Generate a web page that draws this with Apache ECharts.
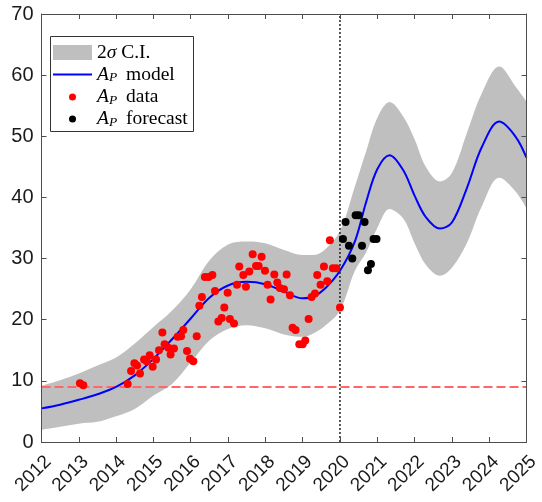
<!DOCTYPE html>
<html><head><meta charset="utf-8">
<script src="https://cdn.jsdelivr.net/npm/echarts@6/dist/echarts.min.js"></script>
<style>html,body{margin:0;padding:0;background:#fff}#c{width:542px;height:502px}</style>
</head><body><div id="c"></div>
<script>
const xMin = 2012, xMax = 2025, xStep = 1;
const yMin = 0, yMax = 70, yStep = 10;

const dataYears = [2013.03,2013.12,2014.31,2014.40,2014.49,2014.56,2014.64,2014.75,2014.82,2014.90,2014.98,2015.07,2015.15,2015.24,2015.30,2015.40,2015.46,2015.55,2015.65,2015.74,2015.80,2015.90,2015.98,2016.07,2016.16,2016.23,2016.30,2016.38,2016.48,2016.58,2016.65,2016.74,2016.83,2016.90,2016.99,2017.05,2017.16,2017.24,2017.30,2017.41,2017.48,2017.57,2017.66,2017.75,2017.82,2017.90,2017.99,2018.06,2018.14,2018.24,2018.32,2018.39,2018.50,2018.57,2018.66,2018.73,2018.81,2018.91,2019.00,2019.07,2019.16,2019.24,2019.33,2019.39,2019.48,2019.57,2019.66,2019.73,2019.81,2019.90,2020.00];
const dataValues = [9.6,9.3,9.5,11.6,12.9,12.5,11.2,13.5,13.2,14.2,12.3,13.5,15.0,17.9,16.0,15.4,14.3,15.3,17.2,17.3,18.3,14.9,13.6,13.2,17.3,22.3,23.7,27.0,27.0,27.3,24.7,19.7,20.3,22.0,24.4,20.1,19.4,25.7,28.7,27.3,25.4,27.9,30.7,28.8,28.8,30.3,28.0,25.7,23.3,27.4,26.1,25.2,25.0,27.4,24.0,18.7,18.3,16.0,16.0,16.6,20.1,23.7,24.3,27.3,25.7,28.7,26.3,33.0,28.4,28.4,22.0];

const forecastYears = [2020.08,2020.15,2020.24,2020.33,2020.42,2020.50,2020.59,2020.66,2020.75,2020.83,2020.90,2020.98];
const forecastValues = [33.2,36.0,32.1,30.0,37.1,37.1,32.1,36.0,28.1,29.1,33.2,33.2];

const modelYears = [2012.0,2012.5,2013.0,2013.5,2014.0,2014.5,2015.0,2015.5,2016.0,2016.5,2017.0,2017.5,2018.0,2018.5,2019.0,2019.3,2019.6,2020.0,2020.4,2020.7,2021.0,2021.33,2021.7,2022.0,2022.3,2022.68,2023.0,2023.4,2023.8,2024.27,2024.7,2025.0];
const modelValues = [5.5,6.1,6.9,7.8,9.0,10.9,13.6,16.8,20.2,23.6,25.6,26.2,25.8,24.6,23.5,23.8,25.1,28.0,32.8,39.2,44.6,46.9,44.4,40.3,36.8,34.9,35.9,41.5,48.2,52.4,50.0,46.5];
const ciUpper = [9.2,10.1,11.2,12.5,13.8,16.1,18.8,21.5,25.0,29.7,32.3,32.8,32.5,31.4,30.6,30.6,31.5,34.5,41.8,47.5,53.0,55.6,53.2,49.5,45.0,42.6,44.0,50.5,57.0,61.4,58.2,55.7];
const ciLower = [2.0,2.5,3.0,3.3,4.2,5.4,7.6,9.5,13.0,16.6,18.5,19.1,18.6,17.6,17.2,17.8,19.0,21.5,28.0,31.0,35.0,38.1,36.5,32.5,29.0,27.2,28.5,32.5,38.5,43.2,41.0,38.2];

const thresholdLevel = 9;
const forecastStart = 2020;

const zip = (xs, ys) => xs.map((x, i) => [x, ys[i]]);
const serif = 'Liberation Serif';
const sans = 'Liberation Sans';
const axisColor = '#4d4d4d';

function legendLabel(name) {
  if (name.indexOf('AP ') === 0) return '{a|A}{p|P}{t|' + name.slice(2) + '}';
  if (name === '2σ C.I.') return '{t|2}{s|σ}{t| C.I.}';
  return name;
}
const fs = 19.5;
const legendRich = {
  t: {fontFamily: serif, fontSize: fs, lineHeight: 20, color: '#000'},
  a: {fontFamily: serif, fontSize: fs, lineHeight: 20, fontStyle: 'italic', color: '#000'},
  s: {fontFamily: serif, fontSize: fs, lineHeight: 20, fontStyle: 'italic', color: '#000'},
  p: {fontFamily: serif, fontSize: 13.5, lineHeight: 12, fontStyle: 'italic', verticalAlign: 'bottom', padding: [0, 4, 0, 0], color: '#000'}
};

function xAxisCfg(pos, showLabel) {
  return {
    type: 'value', min: xMin, max: xMax, interval: xStep, position: pos, z: 6,
    axisLine: {show: true, onZero: false, lineStyle: {color: axisColor, width: 1}},
    axisTick: {show: true, inside: true, length: 5, lineStyle: {color: axisColor}},
    splitLine: {show: false},
    axisLabel: {show: showLabel, rotate: 45, margin: 10, verticalAlign: 'top',
      fontSize: 19, fontFamily: sans, color: '#1a1a1a', formatter: v => String(v)}
  };
}
function yAxisCfg(pos, showLabel) {
  return {
    type: 'value', min: yMin, max: yMax, interval: yStep, position: pos, z: 6,
    axisLine: {show: true, onZero: false, lineStyle: {color: axisColor, width: 1}},
    axisTick: {show: true, inside: true, length: 5, lineStyle: {color: axisColor}},
    splitLine: {show: false},
    axisLabel: {show: showLabel, margin: 8, fontSize: 20, fontFamily: sans, color: '#1a1a1a'}
  };
}

const chart = echarts.init(document.getElementById('c'), null, {renderer: 'canvas'});
chart.setOption({
  animation: false,
  backgroundColor: '#fff',
  grid: {left: 41.5, right: 15.5, top: 14, bottom: 60, containLabel: false, outerBoundsMode: 'none'},
  xAxis: [xAxisCfg('bottom', true), xAxisCfg('top', false)],
  yAxis: [yAxisCfg('left', true), yAxisCfg('right', false)],
  graphic: [{
    type: 'rect', left: 50, top: 36, z: 6,
    shape: {width: 143, height: 95},
    style: {fill: '#fff', stroke: '#333', lineWidth: 1}
  }],
  legend: [{
    z: 8, left: 53, top: 42.5, orient: 'vertical', padding: 0,
    itemWidth: 39, itemHeight: 15, itemGap: 2, selectedMode: false,
    data: [
      {name: '2σ C.I.', icon: 'rect', itemStyle: {color: '#bfbfbf', borderWidth: 0}},
      {name: 'AP model', icon: 'path://M0,0H39V2H0Z', itemStyle: {color: '#0000ff', borderWidth: 0}}
    ],
    formatter: legendLabel,
    textStyle: {rich: legendRich, fontFamily: serif, fontSize: fs}
  }, {
    z: 8, left: 69, top: 87, orient: 'vertical', padding: 0,
    itemWidth: 39, itemHeight: 7, itemGap: 2, selectedMode: false,
    data: [{name: 'AP data', icon: 'circle'}, {name: 'AP forecast', icon: 'circle'}],
    formatter: legendLabel,
    textStyle: {rich: legendRich, fontFamily: serif, fontSize: fs}
  }],
  series: [
    {
      name: '2σ C.I.', type: 'line', data: zip(modelYears, ciUpper), smooth: 0.35,
      symbol: 'none', z: 1, silent: true,
      itemStyle: {color: '#bfbfbf'},
      lineStyle: {width: 0, color: '#bfbfbf'},
      areaStyle: {color: '#bfbfbf', opacity: 1, origin: 'start'}
    },
    {
      name: 'ciLowerMask', type: 'line', data: zip(modelYears, ciLower), smooth: 0.35,
      symbol: 'none', z: 2, silent: true,
      itemStyle: {color: '#ffffff'},
      lineStyle: {width: 0, color: '#ffffff'},
      areaStyle: {color: '#ffffff', opacity: 1, origin: 'start'}
    },
    {
      name: 'threshold', type: 'line', data: [[xMin, thresholdLevel], [xMax, thresholdLevel]],
      symbol: 'none', z: 3, silent: true,
      lineStyle: {color: '#ff6666', width: 2, type: [9, 4]}
    },
    {
      name: 'AP model', type: 'line', data: zip(modelYears, modelValues), smooth: 0.35,
      symbol: 'none', z: 4, silent: true,
      itemStyle: {color: '#0000ff'},
      lineStyle: {color: '#0000ff', width: 2}
    },
    {
      name: 'forecastStart', type: 'line', data: [[forecastStart, yMin], [forecastStart, yMax]],
      symbol: 'none', z: 4, silent: true,
      lineStyle: {color: '#222', width: 1.5, type: [2, 2]}
    },
    {
      name: 'AP data', type: 'scatter', data: zip(dataYears, dataValues),
      symbol: 'circle', symbolSize: 8, z: 5,
      itemStyle: {color: '#ff0000', opacity: 1}
    },
    {
      name: 'AP forecast', type: 'scatter', data: zip(forecastYears, forecastValues),
      symbol: 'circle', symbolSize: 8, z: 5,
      itemStyle: {color: '#000000', opacity: 1}
    }
  ]
});
</script></body></html>
